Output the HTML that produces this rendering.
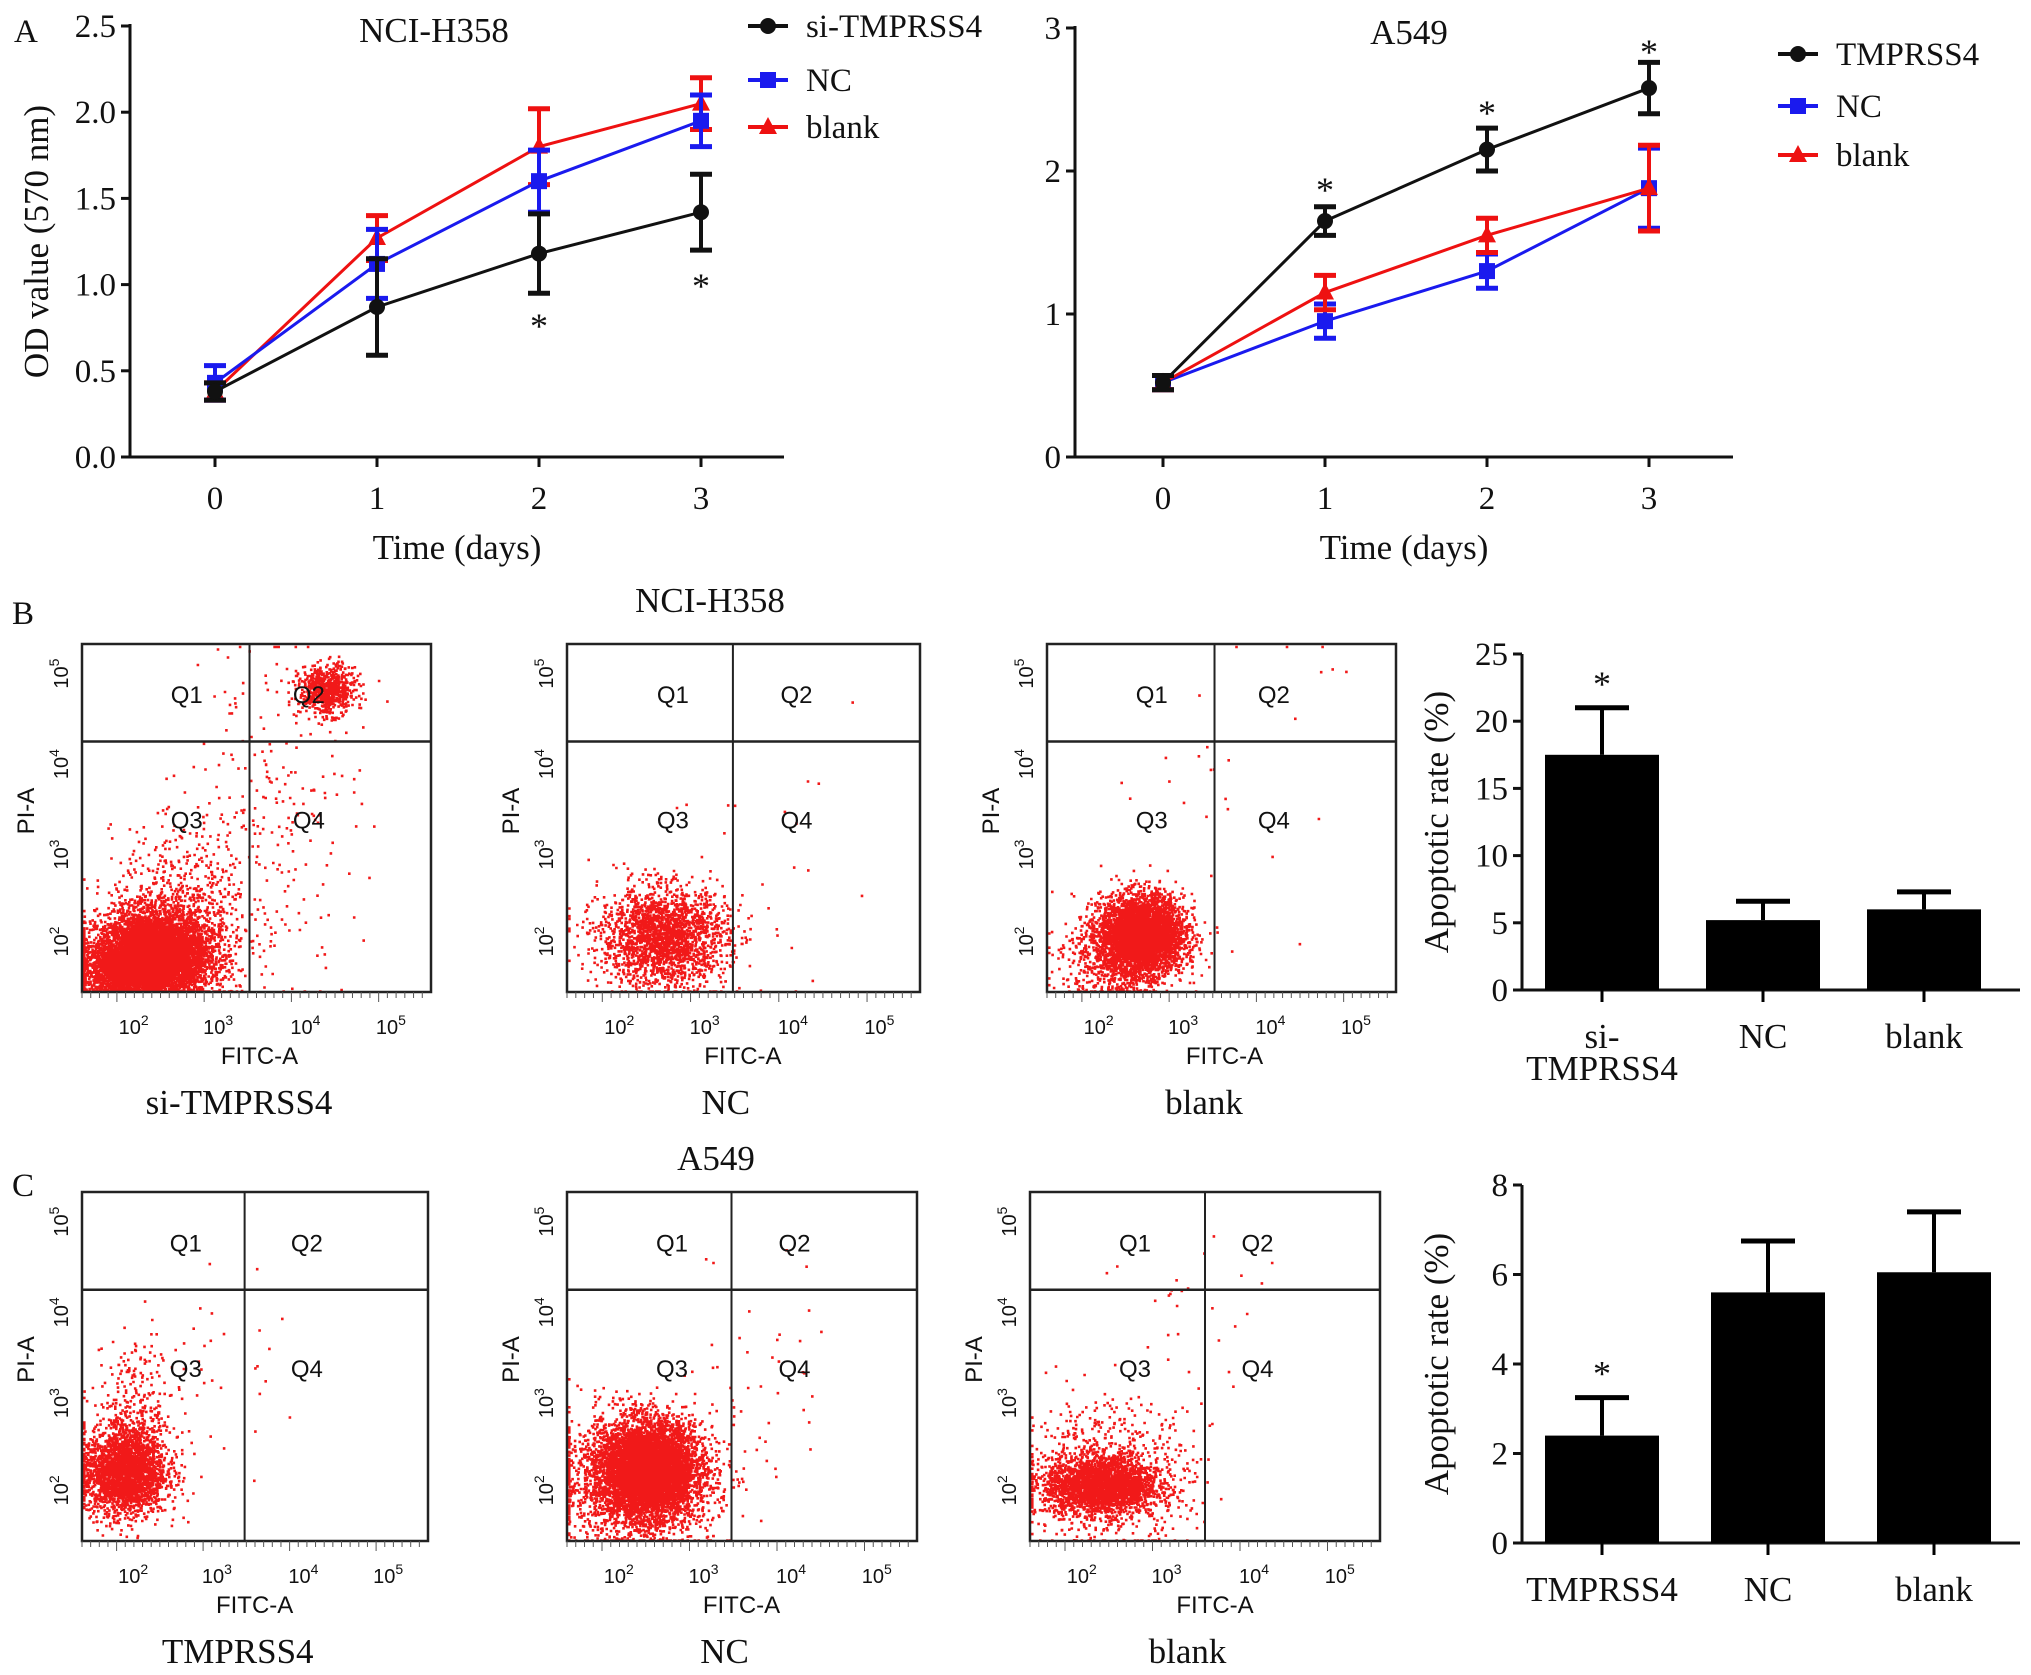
<!DOCTYPE html>
<html><head><meta charset="utf-8"><style>
html,body{margin:0;padding:0;background:#fff;}
svg{display:block;}
text{font-family:"Liberation Serif",serif;fill:#111;}
.sans{font-family:"Liberation Sans",sans-serif;}
</style></head><body>
<svg id="fig" width="2031" height="1675" viewBox="0 0 2031 1675" xmlns="http://www.w3.org/2000/svg">
<g id="root"></g>
</svg>
<script>
// ---- Panel A data ----
const days = [0, 1, 2, 3];
const h358Si = [0.38, 0.87, 1.18, 1.42];
const h358SiErr = [0.05, 0.28, 0.23, 0.22];
const h358NC = [0.43, 1.12, 1.60, 1.95];
const h358NCErr = [0.10, 0.20, 0.18, 0.15];
const h358Blank = [0.38, 1.27, 1.80, 2.05];
const h358BlankErr = [0.05, 0.13, 0.22, 0.15];
const h358Ticks = [0.0, 0.5, 1.0, 1.5, 2.0, 2.5];
const h358TickLabels = ["0.0", "0.5", "1.0", "1.5", "2.0", "2.5"];
const a549T = [0.52, 1.65, 2.15, 2.58];
const a549TErr = [0.05, 0.10, 0.15, 0.18];
const a549NC = [0.52, 0.95, 1.30, 1.88];
const a549NCErr = [0.05, 0.12, 0.12, 0.28];
const a549Blank = [0.52, 1.15, 1.55, 1.88];
const a549BlankErr = [0.05, 0.12, 0.12, 0.30];
const a549Ticks = [0, 1, 2, 3];
// ---- Bar data ----
const barCats = ["si-TMPRSS4", "NC", "blank"];
const barB = [17.5, 5.2, 6.0];
const barBErr = [3.5, 1.4, 1.3];
const barBTicks = [0, 5, 10, 15, 20, 25];
const barCCats = ["TMPRSS4", "NC", "blank"];
const barC = [2.4, 5.6, 6.05];
const barCErr = [0.85, 1.15, 1.35];
const barCTicks = [0, 2, 4, 6, 8];
// ---- Flow cluster data (fraction x, fraction y from bottom, sd x, sd y, count) ----
const flowB1 = [[0.2,0.11,0.08,0.06,6000],[0.12,0.06,0.1,0.04,1500],[0.28,0.22,0.1,0.12,800],[0.7,0.87,0.04,0.035,700],[0.55,0.55,0.12,0.25,220]];
const flowB2 = [[0.27,0.16,0.09,0.07,2200],[0.5,0.4,0.15,0.2,20]];
const flowB3 = [[0.27,0.17,0.06,0.055,4000],[0.2,0.1,0.08,0.06,700],[0.5,0.7,0.15,0.2,25]];
const flowC1 = [[0.12,0.2,0.06,0.06,2500],[0.15,0.36,0.06,0.1,350],[0.45,0.45,0.12,0.15,30]];
const flowC2 = [[0.23,0.21,0.065,0.065,6000],[0.2,0.18,0.11,0.09,2200],[0.55,0.5,0.1,0.2,40]];
const flowC3 = [[0.2,0.16,0.08,0.04,2500],[0.22,0.2,0.12,0.1,700],[0.5,0.6,0.15,0.2,30]];

const NS = "http://www.w3.org/2000/svg";
const root = document.getElementById('root');
function el(tag, attrs, parent, txt){
  const e = document.createElementNS(NS, tag);
  for (const k in attrs) e.setAttribute(k, attrs[k]);
  if (txt !== undefined) e.textContent = txt;
  (parent || root).appendChild(e);
  return e;
}
function label(x,y,t,size,anchor,parent,name){
  const e = el('text',{x:x,y:y,'font-size':size,'text-anchor':anchor||'middle'},parent,t);
  
  
  return e;
}

// ---------- Line charts ----------
function lineChart(cfg){
  const g = el('g',{});
  
  
  const xs = d => cfg.x0 + d*(cfg.x1-cfg.x0)/3;
  const ys = v => cfg.yb - (v - 0)/(cfg.ymax)*(cfg.yb-cfg.yt);
  el('line',{x1:cfg.axX,y1:cfg.yt-2,x2:cfg.axX,y2:cfg.yb,stroke:'#111','stroke-width':3},g);
  el('line',{x1:cfg.axX,y1:cfg.yb,x2:cfg.axEnd,y2:cfg.yb,stroke:'#111','stroke-width':3},g);
  cfg.ticks.forEach((t,i)=>{
    el('line',{x1:cfg.axX-9,y1:ys(t),x2:cfg.axX,y2:ys(t),stroke:'#111','stroke-width':3},g);
    label(cfg.axX-14, ys(t)+11, cfg.tickLabels[i], 33, 'end', g, 'y-tick-label');
  });
  days.forEach(d=>{
    el('line',{x1:xs(d),y1:cfg.yb,x2:xs(d),y2:cfg.yb+10,stroke:'#111','stroke-width':3},g);
    label(xs(d), cfg.yb+52, String(d), 33, 'middle', g, 'x-tick-label');
  });
  label((cfg.axX+cfg.axEnd)/2, cfg.yb+102, 'Time (days)', 35, 'middle', g, 'x-axis-title');
  label(cfg.titleX, cfg.yt+16, cfg.title, 35, 'middle', g, 'chart-title');
  cfg.series.forEach(s=>{
    const sg = el('g',{},g);
    
    
    const pts = s.vals.map((v,i)=>xs(days[i])+','+ys(v)).join(' ');
    el('polyline',{points:pts,fill:'none',stroke:s.color,'stroke-width':3},sg);
    s.vals.forEach((v,i)=>{
      const x = xs(days[i]), e = s.err[i];
      el('line',{x1:x,y1:ys(v+e),x2:x,y2:ys(v-e),stroke:s.color,'stroke-width':4},sg);
      el('line',{x1:x-11,y1:ys(v+e),x2:x+11,y2:ys(v+e),stroke:s.color,'stroke-width':5},sg);
      el('line',{x1:x-11,y1:ys(v-e),x2:x+11,y2:ys(v-e),stroke:s.color,'stroke-width':5},sg);
      marker(s.shape, x, ys(v), s.color, sg);
    });
  });
  cfg.stars.forEach(st=>{
    label(xs(st[0]), st[1], '*', 36, 'middle', g, 'significance-star');
  });
  cfg.legend.forEach((lg,i)=>{
    const y = cfg.legY[i];
    const lgG = el('g',{},g);
    
    
    el('line',{x1:cfg.legX,y1:y,x2:cfg.legX+40,y2:y,stroke:lg.color,'stroke-width':4},lgG);
    marker(lg.shape, cfg.legX+20, y, lg.color, lgG);
    label(cfg.legX+58, y+11, lg.text, 33, 'start', lgG, 'legend-label');
  });
  if (cfg.yTitle){
    const t = el('text',{x:0,y:0,'font-size':35,'text-anchor':'middle',transform:`translate(48,${(cfg.yt+cfg.yb)/2}) rotate(-90)`},g,cfg.yTitle);
    
    
  }
}
function marker(shape,x,y,c,p){
  if (shape==='circle') el('circle',{cx:x,cy:y,r:8,fill:c},p);
  else if (shape==='square') el('rect',{x:x-8,y:y-8,width:16,height:16,fill:c},p);
  else el('polygon',{points:`${x},${y-10} ${x+9},${y+7} ${x-9},${y+7}`,fill:c},p);
}
lineChart({name:'chart-nci-h358-growth',x0:215,x1:701,axX:130,axEnd:784,yt:26,yb:457,ymax:2.5,
  ticks:h358Ticks,tickLabels:h358TickLabels,title:'NCI-H358',titleX:434,yTitle:'OD value (570 nm)',
  series:[{key:'blank',vals:h358Blank,err:h358BlankErr,color:'#ee1111',shape:'tri'},
          {key:'nc',vals:h358NC,err:h358NCErr,color:'#1a1aee',shape:'square'},
          {key:'si-tmprss4',vals:h358Si,err:h358SiErr,color:'#111',shape:'circle'}],
  stars:[[2,338],[3,298]],
  legend:[{text:'si-TMPRSS4',color:'#111',shape:'circle'},{text:'NC',color:'#1a1aee',shape:'square'},{text:'blank',color:'#ee1111',shape:'tri'}],
  legX:748,legY:[26,80,127]});
lineChart({name:'chart-a549-growth',x0:1163,x1:1649,axX:1075,axEnd:1733,yt:28,yb:457,ymax:3,
  ticks:a549Ticks,tickLabels:['0','1','2','3'],title:'A549',titleX:1409,yTitle:null,
  series:[{key:'nc',vals:a549NC,err:a549NCErr,color:'#1a1aee',shape:'square'},
          {key:'blank',vals:a549Blank,err:a549BlankErr,color:'#ee1111',shape:'tri'},
          {key:'tmprss4',vals:a549T,err:a549TErr,color:'#111',shape:'circle'}],
  stars:[[1,202],[2,125],[3,64]],
  legend:[{text:'TMPRSS4',color:'#111',shape:'circle'},{text:'NC',color:'#1a1aee',shape:'square'},{text:'blank',color:'#ee1111',shape:'tri'}],
  legX:1778,legY:[54,106,155]});

label(14,42,'A',33,'start',null,'panel-label-a');
label(12,624,'B',33,'start',null,'panel-label-b');
label(12,1196,'C',33,'start',null,'panel-label-c');
label(710,612,'NCI-H358',35,'middle',null,'panel-b-title');
label(716,1170,'A549',35,'middle',null,'panel-c-title');

// ---------- Flow plots ----------
let seed = 12345;
function rnd(){ seed = (seed*1103515245 + 12345) % 2147483648; return seed/2147483648; }
function gauss(){ let u=0,v=0; while(u===0)u=rnd(); v=rnd(); return Math.sqrt(-2*Math.log(u))*Math.cos(2*Math.PI*v); }
function flow(x0,y0,x1,y1,vx,hy,clusters,cap,name){
  const g = el('g',{});
  
  
  const w=x1-x0,h=y1-y0;
  let d='';
  clusters.forEach(c=>{
    for(let i=0;i<c[4];i++){
      let fx=c[0]+gauss()*c[2], fy=c[1]+gauss()*c[3];
      fx=Math.min(0.995,Math.max(0.003,fx)); fy=Math.min(0.995,Math.max(0.005,fy));
      const px=x0+fx*w, py=y1-fy*h;
      d+=`M${px.toFixed(1)} ${py.toFixed(1)}h2.6v2.6h-2.6z`;
    }
  });
  el('path',{d:d,fill:'#f00000','fill-opacity':0.9},g);
  el('rect',{x:x0,y:y0,width:w,height:h,fill:'none',stroke:'#222','stroke-width':2.5},g);
  el('line',{x1:x0+vx*w,y1:y0,x2:x0+vx*w,y2:y1,stroke:'#222','stroke-width':2},g);
  el('line',{x1:x0,y1:y0+hy*h,x2:x1,y2:y0+hy*h,stroke:'#222','stroke-width':2.5},g);
  [['Q1',0.3,0.17],['Q2',0.65,0.17],['Q3',0.3,0.53],['Q4',0.65,0.53]].forEach(q=>{
    const t=label(x0+q[1]*w,y0+q[2]*h,q[0],24,'middle',g,'quadrant-label');t.setAttribute('class','sans');
  });
  for(let i=0;i<40;i++){ el('line',{x1:x0+w*i/40,y1:y1,x2:x0+w*i/40,y2:y1+(i%10===4?10:6),stroke:'#555','stroke-width':1},g); }
  const xt=[0.148,0.39,0.64,0.885], yt=[0.855,0.605,0.345,0.085];
  xt.forEach((f,i)=>{
    const t=el('text',{x:x0+f*w,y:y1+42,'font-size':20,'text-anchor':'middle',class:'sans'},g);
     
    t.textContent='10'; const s=el('tspan',{dy:-9,'font-size':14},t); s.textContent=String(i+2);
  });
  yt.forEach((f,i)=>{
    const t=el('text',{x:0,y:0,'font-size':20,'text-anchor':'middle',class:'sans',transform:`translate(${x0-14},${y0+f*h}) rotate(-90)`},g);
     
    t.textContent='10'; const s=el('tspan',{dy:-9,'font-size':14},t); s.textContent=String(i+2);
  });
  const xa=label(x0+vx*w+10,y1+72,'FITC-A',24,'middle',g,'x-axis-title'); xa.setAttribute('class','sans');
  const ya=el('text',{x:0,y:0,'font-size':24,'text-anchor':'middle',class:'sans',transform:`translate(${x0-48},${y0+0.48*h}) rotate(-90)`},g,'PI-A');
   
  label(x0+w*0.45,y1+122,cap,35,'middle',g,'sample-label');
}
flow(82,644,431,992,0.48,0.28,flowB1,'si-TMPRSS4','flow-b-si-tmprss4');
flow(567,644,920,992,0.47,0.28,flowB2,'NC','flow-b-nc');
flow(1047,644,1396,992,0.48,0.28,flowB3,'blank','flow-b-blank');
flow(82,1192,428,1541,0.47,0.28,flowC1,'TMPRSS4','flow-c-tmprss4');
flow(567,1192,917,1541,0.47,0.28,flowC2,'NC','flow-c-nc');
flow(1030,1192,1380,1541,0.5,0.28,flowC3,'blank','flow-c-blank');

// ---------- Bar charts ----------
function barChart(cfg){
  const g = el('g',{});
  
  
  const ys = v => cfg.yb - v/cfg.ymax*(cfg.yb-cfg.yt);
  el('line',{x1:cfg.axX,y1:cfg.yt,x2:cfg.axX,y2:cfg.yb,stroke:'#111','stroke-width':3},g);
  el('line',{x1:cfg.axX-8,y1:cfg.yb,x2:2020,y2:cfg.yb,stroke:'#111','stroke-width':3},g);
  cfg.ticks.forEach(t=>{
    el('line',{x1:cfg.axX-9,y1:ys(t),x2:cfg.axX,y2:ys(t),stroke:'#111','stroke-width':3},g);
    label(cfg.axX-14, ys(t)+11, String(t), 33, 'end', g, 'y-tick-label');
  });
  const yt=el('text',{x:0,y:0,'font-size':35,'text-anchor':'middle',transform:`translate(1448,${(cfg.yt+cfg.yb)/2}) rotate(-90)`},g,'Apoptotic rate (%)');
   
  cfg.vals.forEach((v,i)=>{
    const cx = cfg.cx[0] + i*(cfg.cx[1]-cfg.cx[0]);
    const b = el('rect',{x:cx-57,y:ys(v),width:114,height:cfg.yb-ys(v),fill:'#000'},g);
    
    
    const e=cfg.err[i];
    el('line',{x1:cx,y1:ys(v),x2:cx,y2:ys(v+e),stroke:'#000','stroke-width':4},g);
    el('line',{x1:cx-27,y1:ys(v+e),x2:cx+27,y2:ys(v+e),stroke:'#000','stroke-width':5},g);
    el('line',{x1:cx,y1:cfg.yb,x2:cx,y2:cfg.yb+12,stroke:'#000','stroke-width':3},g);
    if(cfg.cats[i]==='si-TMPRSS4'){
      label(cx,cfg.yb+58,'si-',35,'middle',g,'x-tick-label');
      label(cx,cfg.yb+90,'TMPRSS4',35,'middle',g,'x-tick-label');
    } else label(cx,cfg.yb+58,cfg.cats[i],35,'middle',g,'x-tick-label');
    if(i===cfg.star) label(cx, ys(v+e)-12, '*', 36, 'middle', g, 'significance-star');
  });
}
barChart({name:'bar-chart-b',axX:1522,yt:654,yb:990,ymax:25,ticks:barBTicks,vals:barB,err:barBErr,cats:barCats,cx:[1602,1763],star:0});
barChart({name:'bar-chart-c',axX:1522,yt:1185,yb:1543,ymax:8,ticks:barCTicks,vals:barC,err:barCErr,cats:barCCats,cx:[1602,1768],star:0});
</script>
</body></html>
